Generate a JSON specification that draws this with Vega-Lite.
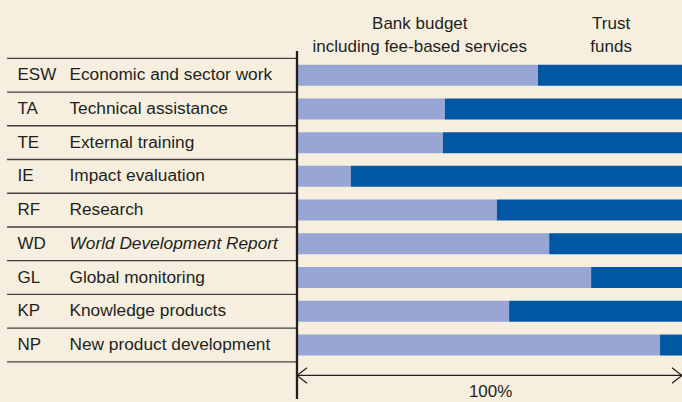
{
  "$schema": "https://vega.github.io/schema/vega-lite/v6.json",
  "width": 682,
  "height": 402,
  "autosize": "none",
  "padding": 0,
  "background": "#f6efdf",
  "config": {"view": {"stroke": null}, "font": "Liberation Sans"},
  "datasets": {
    "rows": [
      {"r": 0, "code": "ESW", "name": "Economic and sector work", "Bank budget": 62.6, "Trust funds": 37.4},
      {"r": 1, "code": "TA", "name": "Technical assistance", "Bank budget": 38.4, "Trust funds": 61.6},
      {"r": 2, "code": "TE", "name": "External training", "Bank budget": 37.9, "Trust funds": 62.1},
      {"r": 3, "code": "IE", "name": "Impact evaluation", "Bank budget": 14.0, "Trust funds": 86.0},
      {"r": 4, "code": "RF", "name": "Research", "Bank budget": 51.9, "Trust funds": 48.1},
      {"r": 5, "code": "WD", "name": "World Development Report", "Bank budget": 65.5, "Trust funds": 34.5},
      {"r": 6, "code": "GL", "name": "Global monitoring", "Bank budget": 76.4, "Trust funds": 23.6},
      {"r": 7, "code": "KP", "name": "Knowledge products", "Bank budget": 55.1, "Trust funds": 44.9},
      {"r": 8, "code": "NP", "name": "New product development", "Bank budget": 94.3, "Trust funds": 5.7}
    ],
    "seps": [
      {"r": -0.5, "x1": -75.3, "x2": 0}, {"r": 0.5, "x1": -75.3, "x2": 0}, {"r": 1.5, "x1": -75.3, "x2": 0},
      {"r": 2.5, "x1": -75.3, "x2": 0}, {"r": 3.5, "x1": -75.3, "x2": 0}, {"r": 4.5, "x1": -75.3, "x2": 0},
      {"r": 5.5, "x1": -75.3, "x2": 0}, {"r": 6.5, "x1": -75.3, "x2": 0}, {"r": 7.5, "x1": -75.3, "x2": 0},
      {"r": 8.5, "x1": -75.3, "x2": 0}
    ],
    "headers": [
      {"x": 31.9, "r": -1.52, "t": "Bank budget"},
      {"x": 31.9, "r": -0.84, "t": "including fee-based services"},
      {"x": 81.6, "r": -1.52, "t": "Trust"},
      {"x": 81.6, "r": -0.84, "t": "funds"}
    ],
    "paths": [
      {"g": "axis", "x": 0, "r": -0.72, "o": 0},
      {"g": "axis", "x": 0, "r": 9.6, "o": 1},
      {"g": "shaft", "x": 0, "r": 8.9, "o": 0},
      {"g": "shaft", "x": 100, "r": 8.9, "o": 1},
      {"g": "a", "x": 2.6, "r": 8.67, "o": 0},
      {"g": "a", "x": 0, "r": 8.9, "o": 1},
      {"g": "a", "x": 2.6, "r": 9.13, "o": 2},
      {"g": "b", "x": 97.4, "r": 8.67, "o": 0},
      {"g": "b", "x": 100, "r": 8.9, "o": 1},
      {"g": "b", "x": 97.4, "r": 9.13, "o": 2}
    ],
    "note": [{"x": 50.3, "r": 9.16, "t": "100%"}]
  },
  "layer": [
    {
      "data": {"name": "seps"},
      "mark": {"type": "rule", "color": "#433f3f", "strokeWidth": 1.3},
      "encoding": {
        "x": {"field": "x1", "type": "quantitative", "scale": {"domain": [-77.14, 100], "nice": false, "zero": false}, "axis": null},
        "x2": {"field": "x2"},
        "y": {"field": "r", "type": "quantitative", "scale": {"domain": [-2.08, 9.54], "reverse": true, "nice": false, "zero": false}, "axis": null}
      }
    },
    {
      "data": {"name": "rows"},
      "transform": [
        {"fold": ["Bank budget", "Trust funds"], "as": ["source", "share"]},
        {"stack": "share", "groupby": ["r"], "sort": [{"field": "source", "order": "ascending"}], "as": ["s0", "s1"]}
      ],
      "mark": {"type": "bar", "height": 21},
      "encoding": {
        "x": {"field": "s0", "type": "quantitative"},
        "x2": {"field": "s1"},
        "y": {"field": "r", "type": "quantitative"},
        "color": {"field": "source", "type": "nominal", "scale": {"domain": ["Bank budget", "Trust funds"], "range": ["#97a6d4", "#0057a4"]}, "legend": null}
      }
    },
    {
      "data": {"name": "rows"},
      "mark": {"type": "text", "align": "left", "baseline": "middle", "fontSize": 17, "color": "#231f20"},
      "encoding": {
        "x": {"datum": -72.6, "type": "quantitative"},
        "y": {"field": "r", "type": "quantitative"},
        "text": {"field": "code"}
      }
    },
    {
      "data": {"name": "rows"},
      "transform": [{"filter": "datum.code !== 'WD'"}],
      "mark": {"type": "text", "align": "left", "baseline": "middle", "fontSize": 17.3, "color": "#231f20"},
      "encoding": {
        "x": {"datum": -59.1, "type": "quantitative"},
        "y": {"field": "r", "type": "quantitative"},
        "text": {"field": "name"}
      }
    },
    {
      "data": {"name": "rows"},
      "transform": [{"filter": "datum.code === 'WD'"}],
      "mark": {"type": "text", "align": "left", "baseline": "middle", "fontSize": 17.3, "fontStyle": "italic", "color": "#231f20"},
      "encoding": {
        "x": {"datum": -59.1, "type": "quantitative"},
        "y": {"field": "r", "type": "quantitative"},
        "text": {"field": "name"}
      }
    },
    {
      "data": {"name": "headers"},
      "mark": {"type": "text", "align": "center", "baseline": "middle", "fontSize": 17, "color": "#231f20"},
      "encoding": {
        "x": {"field": "x", "type": "quantitative"},
        "y": {"field": "r", "type": "quantitative"},
        "text": {"field": "t"}
      }
    },
    {
      "data": {"name": "paths"},
      "mark": {"type": "line", "color": "#231f20"},
      "encoding": {
        "x": {"field": "x", "type": "quantitative"},
        "y": {"field": "r", "type": "quantitative"},
        "detail": {"field": "g"},
        "order": {"field": "o"},
        "strokeWidth": {"condition": {"test": "datum.g === 'axis'", "value": 2.3}, "value": 1.2}
      }
    },
    {
      "data": {"name": "note"},
      "mark": {"type": "text", "align": "center", "baseline": "top", "fontSize": 17, "color": "#231f20"},
      "encoding": {
        "x": {"field": "x", "type": "quantitative"},
        "y": {"field": "r", "type": "quantitative"},
        "text": {"field": "t"}
      }
    }
  ]
}
